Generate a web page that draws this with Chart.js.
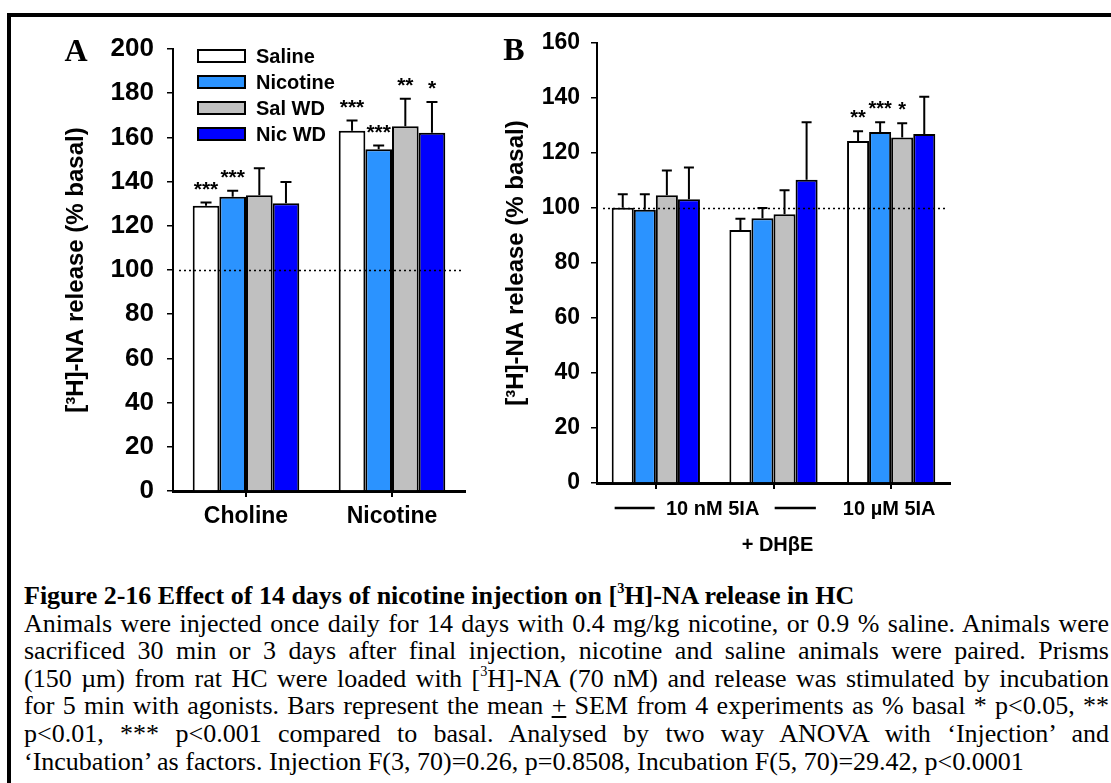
<!DOCTYPE html>
<html><head><meta charset="utf-8">
<script src="https://cdn.jsdelivr.net/npm/chart.js@4.4.1/dist/chart.umd.min.js"></script>
<style>
html,body{margin:0;padding:0;background:#fff;}
#wrap{position:relative;width:1111px;height:783px;overflow:hidden;background:#fff;}
#frame{position:absolute;left:7px;top:13px;width:1110px;height:780px;border-top:4px solid #000;border-left:4px solid #000;box-sizing:border-box;}
#cA{position:absolute;left:0;top:0;}
#cB{position:absolute;left:480px;top:0;}
#caption{position:absolute;left:24px;top:582px;width:1085px;font-family:'Liberation Serif','Times New Roman',serif;font-size:26px;line-height:27.6px;color:#000;}
#caption div{white-space:nowrap;}
#caption sup{font-size:0.55em;line-height:0;vertical-align:0.75em;}
</style>
</head><body>
<div id="wrap">
<div id="frame"></div>
<canvas id="cA" width="480" height="560"></canvas>
<canvas id="cB" width="631" height="560"></canvas>
<div id="caption">
<div><span><b>Figure 2-16 Effect of 14 days of nicotine injection on [<sup>3</sup>H]-NA release in HC</b></span></div>
<div class="j"><span>Animals were injected once daily for 14 days with 0.4 mg/kg nicotine, or 0.9 % saline. Animals were</span></div>
<div class="j"><span>sacrificed 30 min or 3 days after final injection, nicotine and saline animals were paired. Prisms</span></div>
<div class="j"><span>(150 µm) from rat HC were loaded with [<sup>3</sup>H]-NA (70 nM) and release was stimulated by incubation</span></div>
<div class="j"><span>for 5 min with agonists. Bars represent the mean <u>+</u> SEM from 4 experiments as % basal * p&lt;0.05, **</span></div>
<div class="j"><span>p&lt;0.01, *** p&lt;0.001 compared to basal. Analysed by two way ANOVA with ‘Injection’ and</span></div>
<div><span>‘Incubation’ as factors. Injection F(3, 70)=0.26, p=0.8508, Incubation F(5, 70)=29.42, p&lt;0.0001</span></div>
</div>
</div>
<script>
// ---------- data ----------
const seriesNames = ['Saline', 'Nicotine', 'Sal WD', 'Nic WD'];
const seriesColors = ['#FFFFFF', '#2B93FF', '#C0C0C0', '#0000FF'];

// Panel A
const categoriesA = ['Choline', 'Nicotine'];
const salineA   = [129.1, 163.0];
const nicotineA = [133.2, 154.6];
const salWdA    = [133.8, 165.0];
const nicWdA    = [130.2, 162.1];
const salineSemA   = [1.4, 4.6];
const nicotineSemA = [2.7, 1.7];
const salWdSemA    = [12.2, 12.5];
const nicWdSemA    = [9.6, 13.9];
const salineStarsA   = ['***', '***'];
const nicotineStarsA = ['***', '***'];
const salWdStarsA    = ['', '**'];
const nicWdStarsA    = ['', '*'];
const yMaxA = 200, yStepA = 20;

// Panel B
const categoriesB = ['10 nM 5IA', '10 nM 5IA + DHβE', '10 µM 5IA'];
const salineB   = [100.1, 92.0, 124.4];
const nicotineB = [99.4, 96.3, 127.6];
const salWdB    = [104.6, 97.7, 125.6];
const nicWdB    = [103.2, 110.3, 126.9];
const salineSemB   = [4.9, 4.1, 3.5];
const nicotineSemB = [5.6, 3.7, 3.6];
const salWdSemB    = [9.0, 8.8, 5.2];
const nicWdSemB    = [11.5, 20.9, 13.6];
const salineStarsB   = ['', '', '**'];
const nicotineStarsB = ['', '', '***'];
const salWdStarsB    = ['', '', '*'];
const nicWdStarsB    = ['', '', ''];
const xNotesB = ['10 nM 5IA', '10 µM 5IA', '+ DHβE'];
const yMaxB = 160, yStepB = 20;

const yTitle = '[³H]-NA release (% basal)';
const basalLevel = 100;

// ---------- helpers ----------
const SANS = "'Liberation Sans', Arial, sans-serif";
Chart.defaults.font.family = SANS;
Chart.defaults.color = '#000';

function makeDatasets(vals, sems, stars, catPct) {
  return seriesNames.map((name, i) => ({
    label: name,
    data: vals[i],
    sem: sems[i],
    stars: stars[i],
    backgroundColor: seriesColors[i],
    borderColor: '#000',
    borderWidth: 2,
    categoryPercentage: catPct,
    barPercentage: 1.0
  }));
}

const overlayPlugin = {
  id: 'overlay',
  afterDatasetsDraw(chart, args, opts) {
    const ctx = chart.ctx;
    const y = chart.scales.y, area = chart.chartArea;
    ctx.save();
    // basal dotted line
    ctx.strokeStyle = '#000';
    ctx.lineWidth = 1.5;
    ctx.setLineDash([2, 3]);
    ctx.beginPath();
    const yb = Math.round(y.getPixelForValue(basalLevel)) + 0.5;
    ctx.moveTo(area.left + 6, yb);
    ctx.lineTo(area.right - 2, yb);
    ctx.stroke();
    ctx.setLineDash([]);
    // error bars + stars
    chart.data.datasets.forEach((ds, di) => {
      const meta = chart.getDatasetMeta(di);
      meta.data.forEach((bar, i) => {
        const top = y.getPixelForValue(ds.data[i] + ds.sem[i]);
        ctx.strokeStyle = '#000';
        ctx.lineWidth = 2;
        ctx.beginPath();
        ctx.moveTo(bar.x, bar.y);
        ctx.lineTo(bar.x, top);
        ctx.moveTo(bar.x - opts.cap, top);
        ctx.lineTo(bar.x + opts.cap, top);
        ctx.stroke();
        if (ds.stars[i]) {
          ctx.fillStyle = '#000';
          ctx.font = 'bold ' + opts.starSize + 'px ' + SANS;
          ctx.textAlign = 'center';
          ctx.textBaseline = 'alphabetic';
          ctx.fillText(ds.stars[i], bar.x, top - 7);
        }
      });
    });
    // panel letter
    ctx.fillStyle = '#000';
    ctx.font = "bold 32px 'Liberation Serif', 'Times New Roman', serif";
    ctx.textAlign = 'center';
    ctx.textBaseline = 'middle';
    ctx.fillText(opts.letter, opts.letterX, opts.letterY);
    ctx.restore();
  }
};

const legendPlugin = {
  id: 'boxLegend',
  afterDraw(chart, args, opts) {
    if (!opts.show) return;
    const ctx = chart.ctx, area = chart.chartArea;
    ctx.save();
    chart.data.datasets.forEach((ds, i) => {
      const bx = area.left + 25, by = area.top + 1 + i * 26;
      ctx.fillStyle = ds.backgroundColor;
      ctx.fillRect(bx, by, 47, 12);
      ctx.strokeStyle = '#000';
      ctx.lineWidth = 2;
      ctx.strokeRect(bx, by, 47, 12);
      ctx.fillStyle = '#000';
      ctx.font = 'bold 20px ' + SANS;
      ctx.textAlign = 'left';
      ctx.textBaseline = 'middle';
      ctx.fillText(ds.label, bx + 58, by + 7);
    });
    ctx.restore();
  }
};

const notesPlugin = {
  id: 'axisNotes',
  afterDraw(chart, args, opts) {
    if (!opts.show) return;
    const ctx = chart.ctx, x = chart.scales.x, area = chart.chartArea;
    const cw = (area.right - area.left) / chart.data.labels.length;
    const c0 = x.getPixelForValue(0), c1 = x.getPixelForValue(1), c2 = x.getPixelForValue(2);
    const row1 = area.bottom + 25, row2 = area.bottom + 62;
    ctx.save();
    ctx.strokeStyle = '#000';
    ctx.lineWidth = 2.5;
    ctx.beginPath();
    ctx.moveTo(c0 - 0.35 * cw, row1); ctx.lineTo(c0 - 0.01 * cw, row1);
    ctx.moveTo(c1 + 0.01 * cw, row1); ctx.lineTo(c1 + 0.36 * cw, row1);
    ctx.stroke();
    ctx.fillStyle = '#000';
    ctx.font = 'bold 20px ' + SANS;
    ctx.textAlign = 'center';
    ctx.textBaseline = 'middle';
    ctx.fillText(xNotesB[0], (c0 + c1) / 2 - 2, row1 + 1);
    ctx.fillText(xNotesB[1], c2 - 2, row1 + 1);
    ctx.fillText(xNotesB[2], c1 + 4, row2);
    ctx.restore();
  }
};

function makeChart(id, cfg) {
  return new Chart(document.getElementById(id), {
    type: 'bar',
    data: { labels: cfg.labels, datasets: cfg.datasets },
    options: {
      responsive: false,
      animation: false,
      devicePixelRatio: 1,
      layout: { padding: cfg.padding },
      plugins: {
        legend: { display: false },
        tooltip: { enabled: false },
        overlay: cfg.overlay,
        boxLegend: { show: cfg.legend },
        axisNotes: { show: cfg.notes }
      },
      scales: {
        x: {
          offset: true,
          grid: { display: true, drawOnChartArea: false, drawTicks: true, tickLength: 6, color: '#000', lineWidth: 2, offset: false },
          border: { display: true, color: '#000', width: 3 },
          ticks: {
            color: '#000', autoSkip: false, maxRotation: 0, padding: 6,
            font: { size: 23, weight: 'bold', family: SANS },
            callback: cfg.notes ? () => '' : function (v) { return this.getLabelForValue(v); }
          },
          afterFit: s => { s.height = cfg.xHeight; }
        },
        y: {
          min: 0, max: cfg.yMax,
          grid: { display: true, drawOnChartArea: false, drawTicks: true, tickLength: 6, color: '#000', lineWidth: 1.5 },
          border: { display: true, color: '#000', width: 2 },
          ticks: {
            stepSize: cfg.yStep, color: '#000', padding: cfg.tickPad,
            font: { size: cfg.tickSize, weight: 'bold', family: SANS }
          },
          title: {
            display: true, text: yTitle, color: '#000',
            font: { size: 24, weight: 'bold', family: SANS },
            padding: { top: cfg.titlePad, bottom: 0 }
          },
          afterFit: s => { s.width = cfg.yWidth; }
        }
      }
    },
    plugins: [overlayPlugin, legendPlugin, notesPlugin]
  });
}

makeChart('cA', {
  labels: categoriesA,
  datasets: makeDatasets([salineA, nicotineA, salWdA, nicWdA],
                         [salineSemA, nicotineSemA, salWdSemA, nicWdSemA],
                         [salineStarsA, nicotineStarsA, salWdStarsA, nicWdStarsA], 0.73),
  padding: { left: 0, right: 15, top: 49, bottom: 0 },
  xHeight: 69, yWidth: 173, yMax: yMaxA, yStep: yStepA,
  tickSize: 26, tickPad: 13, titlePad: 62,
  legend: true, notes: false,
  overlay: { cap: 5.5, starSize: 21, letter: 'A', letterX: 76, letterY: 53 }
});

makeChart('cB', {
  labels: categoriesB,
  datasets: makeDatasets([salineB, nicotineB, salWdB, nicWdB],
                         [salineSemB, nicotineSemB, salWdSemB, nicWdSemB],
                         [salineStarsB, nicotineStarsB, salWdStarsB, nicWdStarsB], 0.75),
  padding: { left: 0, right: 161, top: 43, bottom: 0 },
  xHeight: 77, yWidth: 117, yMax: yMaxB, yStep: yStepB,
  tickSize: 23, tickPad: 11, titlePad: 22,
  legend: false, notes: true,
  overlay: { cap: 5, starSize: 20, letter: 'B', letterX: 34, letterY: 52 }
});

// justify caption lines
(function () {
  const W = 1085;
  document.querySelectorAll('#caption .j').forEach(el => {
    const span = el.firstElementChild;
    const natural = span.getBoundingClientRect().width;
    const spaces = (span.textContent.match(/ /g) || []).length;
    span.style.wordSpacing = ((W - natural) / spaces) + 'px';
  });
})();
</script>
</body></html>
